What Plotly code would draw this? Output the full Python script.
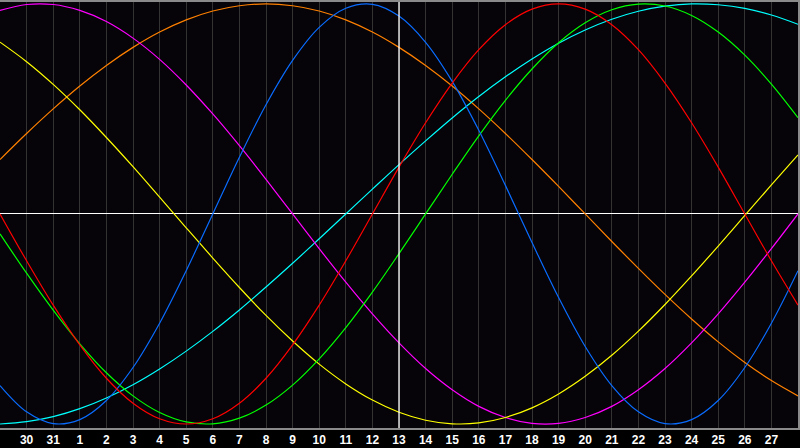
import plotly.graph_objects as go

# jours affichés (index 0 = 29, dernier = 28)
days = ['29', '30', '31'] + [str(d) for d in range(1, 29)]
x_idx = list(range(len(days)))
today = '13'

# valeurs (-100 .. 100)
red = [0, -22.3, -43.4, -62.3, -78.2, -90.1, -97.5, -100, -97.5, -90.1, -78.2, -62.3, -43.4, -22.3, 0,
       22.3, 43.4, 62.3, 78.2, 90.1, 97.5, 100, 97.5, 90.1, 78.2, 62.3, 43.4, 22.3, 0, -22.3, -43.4]
green = [-9.5, -28.2, -45.8, -61.8, -75.6, -86.6, -94.5, -99.0, -99.9, -97.2, -91.0, -81.5, -69.0, -54.1,
         -37.2, -18.9, 0, 18.9, 37.2, 54.1, 69.0, 81.5, 91.0, 97.2, 99.9, 99.0, 94.5, 86.6, 75.6, 61.8, 45.8]
blue = [-81.7, -94.2, -99.8, -97.9, -88.8, -73.1, -52.0, -27.0, 0, 27.0, 52.0, 73.1, 88.8, 97.9, 99.8,
        94.2, 81.7, 63.1, 39.8, 13.6, -13.6, -39.8, -63.1, -81.7, -94.2, -99.8, -97.9, -88.8, -73.1, -52.0, -27.0]
yellow = [81.8, 72.5, 61.7, 49.6, 36.4, 22.5, 8.0, -6.6, -21.0, -35.0, -48.3, -60.5, -71.5, -80.9, -88.6,
          -94.4, -98.2, -99.9, -99.5, -96.9, -92.3, -85.7, -77.3, -67.3, -55.8, -43.1, -29.5, -15.3, -0.7, 13.8, 28.1]
magenta = [96.9, 99.7, 99.7, 96.9, 91.6, 83.7, 73.6, 61.4, 47.6, 32.5, 16.5, 0, -16.5, -32.5, -47.6,
           -61.4, -73.6, -83.7, -91.6, -96.9, -99.7, -99.7, -96.9, -91.6, -83.7, -73.6, -61.4, -47.6, -32.5, -16.5, 0]
cyan = [-100.0, -98.9, -96.5, -92.7, -87.6, -81.3, -73.8, -65.3, -55.9, -45.7, -34.8, -23.5, -11.8, 0, 11.8,
        23.5, 34.8, 45.7, 55.9, 65.3, 73.8, 81.3, 87.6, 92.7, 96.5, 98.9, 100.0, 99.6, 97.9, 94.7, 90.3]
orange = [25.9, 38.3, 50.0, 60.9, 70.7, 79.3, 86.6, 92.4, 96.6, 99.1, 100, 99.1, 96.6, 92.4, 86.6,
          79.3, 70.7, 60.9, 50.0, 38.3, 25.9, 13.1, 0, -13.1, -25.9, -38.3, -50.0, -60.9, -70.7, -79.3, -86.6]

series = [
    (orange, '#ff8000'),
    (cyan, '#00ffff'),
    (magenta, '#ff00ff'),
    (yellow, '#ffff00'),
    (green, '#00ff00'),
    (blue, '#0a6cff'),
    (red, '#ff0000'),
]

fig = go.Figure()
for vals, col in series:
    fig.add_trace(go.Scatter(x=x_idx, y=vals, mode='lines', line=dict(color=col, width=1.2, shape='spline'),
                             hoverinfo='skip', showlegend=False))

# ligne verticale du jour
fig.add_vline(x=days.index(today), line=dict(color='white', width=1.3))

fig.update_xaxes(range=[0, len(days) - 1], tickvals=x_idx[1:-1], ticktext=days[1:-1],
                 showgrid=True, gridcolor='#333333', gridwidth=1, zeroline=False,
                 showline=True, linecolor='#8a8a8a', linewidth=2, mirror=True,
                 ticks='', tickfont=dict(family='Liberation Sans', size=12, color='white', weight='bold'))
fig.update_yaxes(range=[-101.9, 100.9], showgrid=False, showticklabels=False,
                 zeroline=True, zerolinecolor='white', zerolinewidth=1.3,
                 showline=True, linecolor='#8a8a8a', linewidth=2, mirror=True)

fig.update_layout(width=800, height=448, margin=dict(l=0, r=0, t=0, b=20),
                  paper_bgcolor='#000000', plot_bgcolor='#060408')

fig.write_html('out.html', config={'displayModeBar': False},
               post_script="document.body.style.margin='0';")
